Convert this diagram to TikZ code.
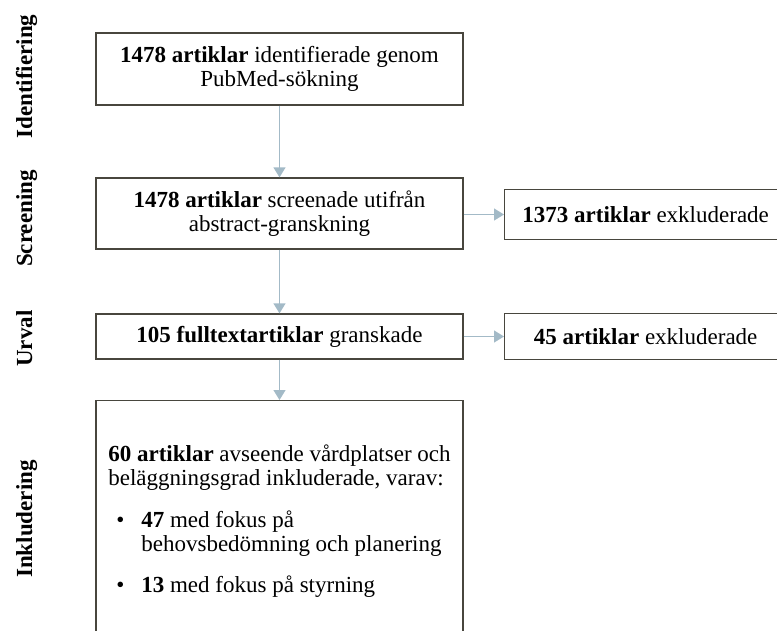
\documentclass[tikz,border=0pt]{standalone}
\usepackage{fontspec}
\setmainfont{Liberation Serif}
\usetikzlibrary{arrows.meta}
\definecolor{pilgra}{RGB}{163,186,199}
\definecolor{ramgra}{RGB}{72,70,62}
\newcommand{\textstorlek}{\fontsize{23}{24}\selectfont}

\tikzset{
ruta/.style={draw=ramgra, line width=1.3pt, align=center, inner xsep=11pt},
fas/.style={rotate=90, anchor=base, font=\textstorlek\bfseries},
pil/.style={draw=pilgra, line width=1.3pt, -{Triangle[width=12pt,length=10pt]}}
}

\begin{document}
\begin{tikzpicture}[x=1pt, y=-1pt, font=\textstorlek]
\clip (0,0) rectangle (777,630);
% fasetiketter
\node[fas] (identlbl) at (32,76.5) {Identifiering};
\node[fas] (screenlbl) at (32,218.5) {Screening};
\node[fas] (urvallbl) at (32,338.5) {Urval};
\node[fas] (inkllbl) at (32,519) {Inkludering};
% huvudflöde
\node[ruta, minimum width=367pt, minimum height=72pt] (ident) at (279.5,69)
{\textbf{1478 artiklar} identifierade genom\\PubMed-sökning};
\node[ruta, minimum width=367pt, minimum height=71pt] (screen) at (279.5,213.5)
{\textbf{1478 artiklar} screenade utifrån\\abstract-granskning};
\node[ruta, minimum width=367pt, minimum height=45pt] (urval) at (279.5,336.5)
{\textbf{105 fulltextartiklar} granskade};
\node[ruta, anchor=north, minimum width=367pt, minimum height=240pt, align=left] (inkl) at (279.5,400)
{\textbf{60 artiklar} avseende vårdplatser och\\
beläggningsgrad inkluderade, varav:\\[18pt]
\hspace*{8pt}\makebox[25pt][l]{\textbullet}\textbf{47} med fokus på\\
\hspace*{33pt}behovsbedömning och planering\\[17pt]
\hspace*{8pt}\makebox[25pt][l]{\textbullet}\textbf{13} med fokus på styrning};
% exkluderade
\node[ruta, anchor=west, minimum width=282pt, minimum height=50pt] (exkl1) at (504,214.5)
{\textbf{1373 artiklar} exkluderade};
\node[ruta, anchor=west, minimum width=282pt, minimum height=46pt] (exkl2) at (504,336.5)
{\textbf{45 artiklar} exkluderade};
% pilar
\draw[pil] (ident) -- (screen);
\draw[pil] (screen) -- (urval);
\draw[pil] (urval) -- (inkl);
\draw[pil] (screen.east |- exkl1.west) -- (exkl1.west);
\draw[pil] (urval) -- (exkl2);
\end{tikzpicture}
\end{document}
